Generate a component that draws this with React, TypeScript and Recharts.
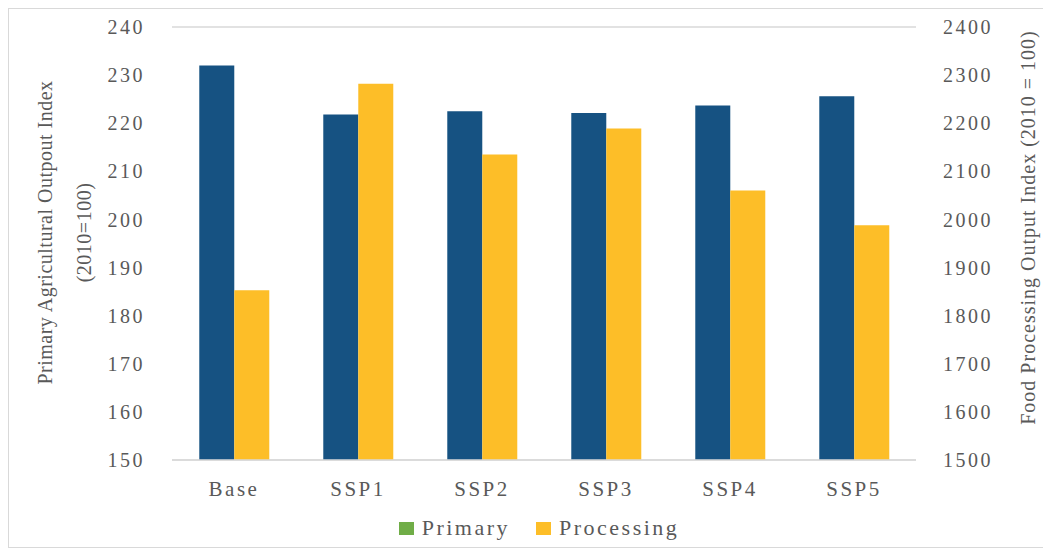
import React from 'react';
import {
  BarChart,
  Bar,
  XAxis,
  YAxis,
  CartesianGrid,
  Legend,
  Label,
} from 'recharts';

// values
const scenarios = ['Base', 'SSP1', 'SSP2', 'SSP3', 'SSP4', 'SSP5'];
const primary = [232.0, 221.8, 222.5, 222.1, 223.7, 225.6];
const processing = [1853, 2282, 2135, 2189, 2060, 1988];

const leftTicks = [150, 160, 170, 180, 190, 200, 210, 220, 230, 240];
const rightTicks = [1500, 1600, 1700, 1800, 1900, 2000, 2100, 2200, 2300, 2400];

const legendItems = [
  { name: 'Primary', color: '#70AD47' },
  { name: 'Processing', color: '#FDBE28' },
];

const data = scenarios.map((s, i) => ({
  name: s,
  primary: primary[i],
  processing: processing[i],
}));

const FONT = '"Liberation Serif", "DejaVu Serif", serif';
const TEXT = '#595959';

const LeftTitle = (props: any) => {
  const { viewBox } = props;
  const cy = viewBox.y + viewBox.height / 2 - 11;
  const x1 = 36;
  const x2 = 75;
  return (
    <g fill={TEXT} fontFamily={FONT} fontSize={20} letterSpacing={0.5}>
      <text x={x1} y={cy} textAnchor="middle" dominantBaseline="central" transform={`rotate(-90 ${x1} ${cy})`}>
        Primary Agricultural Outpout Index
      </text>
      <text x={x2} y={cy} textAnchor="middle" dominantBaseline="central" transform={`rotate(-90 ${x2} ${cy})`}>
        (2010=100)
      </text>
    </g>
  );
};

const RightTitle = (props: any) => {
  const { viewBox } = props;
  const cy = viewBox.y + viewBox.height / 2 - 16;
  const x = 1019;
  return (
    <text x={x} y={cy} textAnchor="middle" dominantBaseline="central" fill={TEXT} fontFamily={FONT} fontSize={20}
      letterSpacing={1} transform={`rotate(-90 ${x} ${cy})`}>
      Food Processing Output Index (2010 = 100)
    </text>
  );
};

const renderLegend = () => (
  <div style={{ display: 'flex', justifyContent: 'center', gap: 26, paddingRight: 30, fontFamily: FONT, fontSize: 22, color: TEXT, letterSpacing: 2.5 }}>
    {legendItems.map((item) => (
      <div key={item.name} style={{ display: 'flex', alignItems: 'center', gap: 8 }}>
        <span style={{ width: 15, height: 13, background: item.color, display: 'inline-block' }} />
        <span>{item.name}</span>
      </div>
    ))}
  </div>
);

export default function App() {
  return (
    <div style={{ width: 1041, height: 538, border: '1px solid #d9d9d9', background: '#fff' }}>
      <BarChart
        width={1041}
        height={538}
        data={data}
        margin={{ top: 18, right: 54, left: 103, bottom: 0 }}
        barCategoryGap="22%"
        barGap={0}
      >
        <CartesianGrid vertical={false} stroke="#d9d9d9" strokeWidth={1.5} />
        <XAxis
          dataKey="name"
          axisLine={{ stroke: '#d9d9d9', strokeWidth: 1.5 }}
          tickLine={false}
          tickSize={0}
          tickMargin={21}
          height={45}
          tick={{ fill: TEXT, fontFamily: FONT, fontSize: 21, letterSpacing: 2.5 }}
        />
        <YAxis
          yAxisId="left"
          domain={[150, 240]}
          ticks={leftTicks}
          axisLine={false}
          tickLine={false}
          tickSize={0}
          tickMargin={27}
          width={60}
          tick={{ fill: TEXT, fontFamily: FONT, fontSize: 20, letterSpacing: 2.5 }}
        >
          <Label content={LeftTitle} />
        </YAxis>
        <YAxis
          yAxisId="right"
          orientation="right"
          domain={[1500, 2400]}
          ticks={rightTicks}
          axisLine={false}
          tickLine={false}
          tickSize={0}
          tickMargin={27}
          width={80}
          tick={{ fill: TEXT, fontFamily: FONT, fontSize: 20, letterSpacing: 2.5, textAnchor: 'start' }}
        >
          <Label content={RightTitle} />
        </YAxis>
        <Legend verticalAlign="bottom" height={42} wrapperStyle={{ bottom: -10 }} content={renderLegend} />
        <Bar yAxisId="left" dataKey="primary" name="Primary" fill="#165282" isAnimationActive={false} />
        <Bar yAxisId="right" dataKey="processing" name="Processing" fill="#FDBE28" isAnimationActive={false} />
      </BarChart>
    </div>
  );
}
